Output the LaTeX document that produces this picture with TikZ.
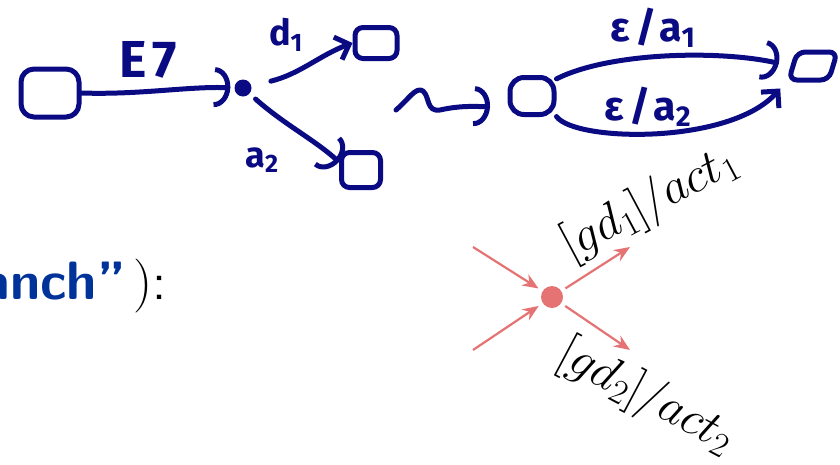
\documentclass[tikz,border=0pt]{standalone}
\usepackage{fix-cm}
\usepackage{fontspec}
\newfontfamily\handfont{Fira Sans}[LetterSpace=12]
\usetikzlibrary{arrows.meta}
\definecolor{inkblue}{RGB}{10,10,130}
\definecolor{slideblue}{RGB}{0,51,153}
\definecolor{salmon}{RGB}{229,115,115}

\begin{document}
\begin{tikzpicture}[x=1pt, y=-1pt,
  hand/.style={draw=inkblue, line width=5pt, line cap=round, line join=round},
  hook/.style={hand, -{Arc Barb[length=16pt, width=40pt]}},
  barb/.style={hand, -{Straight Barb[length=12pt, width=24pt]}},
  hstate/.style={hand, rounded corners=8pt, inner sep=0pt},
  hlabel/.style={text=inkblue, inner sep=0pt, font=\handfont\bfseries\fontsize{36}{38}\selectfont},
  flow/.style={draw=salmon, line width=2.2pt, -{Stealth[length=16pt, width=13pt]}},
  guard/.style={font=\fontsize{49}{54}\selectfont, inner sep=0pt}]
  \clip (0,0) rectangle (840,464);

  % handwritten automaton with branch point
  \node[hstate, minimum width=58pt, minimum height=48pt, rounded corners=13pt] (q0) at (50,93) {};
  \node[circle, fill=inkblue, minimum size=17pt, inner sep=0pt] (b) at (243,88) {};
  \node[hstate, minimum width=42pt, minimum height=31pt] (q1) at (376,43) {};
  \node[hstate, minimum width=39pt, minimum height=35pt] (q2) at (361,170) {};
  \draw[hook, shorten >=4pt] (q0.east) .. controls (140,95) and (190,86) .. (b.west);
  \draw[barb, shorten <=20pt] (b) .. controls (300,74) and (320,55) .. (q1.west);
  \draw[hook, shorten <=8pt] (b) .. controls (285,125) and (315,140) .. (q2.160);
  \node[hlabel, font=\handfont\bfseries\fontsize{52}{54}\selectfont] (le) at (148,60) {E7};
  \node[hlabel] (ld) at (286,35) {d\textsubscript{1}};
  \node[hlabel] (la) at (262,160) {a\textsubscript{2}};

  % leads to
  \coordinate (w0) at (396,110);
  \coordinate (w1) at (490,107);
  \draw[hook] (w0) .. controls (408,100) and (416,86) .. (423,91) .. controls (430,97) and (426,112) .. (440,110) .. controls (458,106) and (472,106) .. (w1);

  % two epsilon transitions
  \node[hstate, minimum width=44pt, minimum height=37pt, rounded corners=14pt] (r0) at (532,96) {};
  \node[hstate, minimum width=40pt, minimum height=28pt, xslant=0.3] (r1) at (813,66) {};
  \draw[hook, shorten >=12pt] (r0.35) .. controls (610,52) and (720,50) .. (r1.west);
  \draw[barb, shorten >=8pt] (r0.-40) .. controls (575,142) and (730,145) .. (r1.south west);
  \node[hlabel, font=\handfont\bfseries\fontsize{41}{43}\selectfont] (le1) at (653,28) {ε/a\textsubscript{1}};
  \node[hlabel, font=\handfont\bfseries\fontsize{41}{43}\selectfont] (le2) at (648,107) {ε/a\textsubscript{2}};

  % branch in the statechart
  \node[circle, fill=salmon, minimum size=22pt, inner sep=0pt, outer sep=5pt] (br) at (552,297) {};
  \coordinate (in1) at (473,247);
  \coordinate (in2) at (473,350);
  \coordinate (out1) at (630,247);
  \coordinate (out2) at (630,350);
  \draw[flow] (in1) -- (br);
  \draw[flow] (in2) -- (br);
  \draw[flow] (br) -- (out1);
  \draw[flow] (br) -- (out2);
  \node[guard, rotate=28] (g1) at (650,204) {$[gd_1]/act_1$};
  \node[guard, rotate=-28] (g2) at (646,397) {$[gd_2]/act_2$};

  \node[anchor=base east, inner sep=0pt, text=slideblue, font=\sffamily\bfseries\fontsize{54}{60}\selectfont] (branch) at (126,299) {anch”};
  \node[anchor=base west, inner sep=0pt, font=\fontsize{54}{60}\selectfont] (close) at (133,299) {$)$\sffamily:};
\end{tikzpicture}
\end{document}
